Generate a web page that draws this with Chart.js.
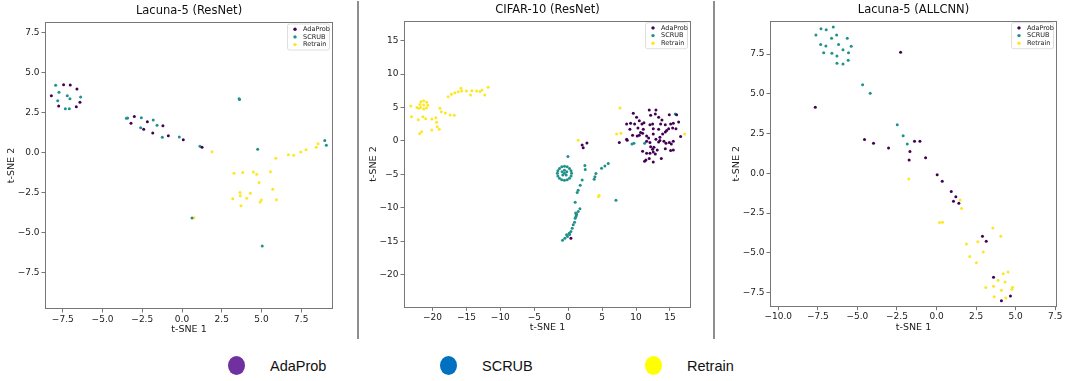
<!DOCTYPE html>
<html>
<head>
<meta charset="utf-8">
<script src="https://cdn.jsdelivr.net/npm/chart.js@4.4.1/dist/chart.umd.min.js"></script>
<style>
html,body{margin:0;padding:0;background:#fff;}
body{width:1067px;height:381px;overflow:hidden;position:relative;font-family:"DejaVu Sans",sans-serif;}
.pc{position:absolute;top:0;}
.sep{position:absolute;top:1px;width:2px;height:338px;background:#8e8e8e;}
.dot{position:absolute;width:17px;height:19px;border-radius:50%;}
.lbl{position:absolute;font-family:"Liberation Sans",Arial,sans-serif;font-size:14.5px;color:#111;line-height:20px;}
</style>
</head>
<body>
<canvas id="c1" class="pc" width="340" height="340" style="left:0px"></canvas>
<canvas id="c2" class="pc" width="336" height="340" style="left:362px"></canvas>
<canvas id="c3" class="pc" width="351" height="340" style="left:716px"></canvas>
<div class="sep" style="left:357px"></div>
<div class="sep" style="left:713px"></div>
<div id="legend"></div>
<script>
// ---------- categories ----------
const seriesNames = ['AdaProb', 'SCRUB', 'Retrain'];
const panelTitles = ['Lacuna-5 (ResNet)', 'CIFAR-10 (ResNet)', 'Lacuna-5 (ALLCNN)'];

// ---------- tick labels ----------
const lacResXTicks = [-7.5, -5, -2.5, 0, 2.5, 5, 7.5];
const lacResYTicks = [-7.5, -5, -2.5, 0, 2.5, 5, 7.5];
const cifarXTicks = [-20, -15, -10, -5, 0, 5, 10, 15];
const cifarYTicks = [-20, -15, -10, -5, 0, 5, 10, 15];
const allcnnXTicks = [-10, -7.5, -5, -2.5, 0, 2.5, 5, 7.5];
const allcnnYTicks = [-7.5, -5, -2.5, 0, 2.5, 5, 7.5];

// ---------- Lacuna-5 (ResNet) ----------
const lacResAdaProb = [[-7.45,4.25],[-7.03,4.23],[-6.61,3.98],[-8.22,3.56],[-7.76,2.92],[-6.42,3.15],[-6.65,2.88],[-3.00,2.27],[-3.21,1.84],[-2.18,1.94],[-2.41,1.46],[-1.20,1.69],[-1.84,1.23],[-0.86,1.06],[0.08,0.81],[1.26,0.34]];
const lacResScrub = [[-7.95,4.21],[-7.74,3.78],[-7.82,3.25],[-7.22,3.56],[-7.05,3.38],[-6.38,3.48],[-7.34,2.75],[-7.09,2.75],[-3.50,2.15],[-3.42,2.17],[-2.56,2.19],[-1.81,2.04],[-2.60,1.56],[-1.57,1.71],[-1.24,0.96],[-0.17,0.98],[1.13,0.40],[3.59,3.38],[3.62,3.32],[4.76,0.21],[8.98,0.77],[9.08,0.46],[5.05,-5.83],[0.63,-4.08]];
const lacResRetrain = [[1.89,0.06],[5.90,-0.35],[6.69,-0.13],[7.03,-0.16],[7.47,0.04],[7.80,0.19],[8.45,0.34],[8.56,0.56],[3.27,-1.29],[3.82,-1.23],[4.49,-1.21],[4.70,-1.35],[5.56,-1.19],[4.85,-1.87],[5.71,-2.29],[3.65,-2.48],[3.67,-2.69],[4.30,-2.54],[3.19,-2.88],[4.07,-2.85],[4.99,-2.96],[4.91,-3.08],[5.94,-2.94],[3.71,-3.31],[0.75,-4.06]];

// ---------- CIFAR-10 (ResNet) ----------
const cifarAdaProb = [[9.59,4.14],[10.08,3.54],[11.95,4.63],[12.93,4.63],[12.15,3.84],[12.84,4.04],[13.33,3.54],[14.90,3.94],[15.98,3.94],[8.61,2.54],[9.20,2.64],[9.79,2.54],[10.48,3.04],[10.87,2.54],[11.16,2.74],[12.05,2.44],[12.44,2.54],[13.82,3.14],[13.62,2.54],[14.31,2.44],[15.10,2.54],[15.49,2.64],[16.28,2.84],[9.10,1.74],[10.28,1.94],[10.67,1.25],[11.07,1.74],[12.54,1.84],[13.33,1.74],[14.51,1.55],[15.39,1.94],[15.88,1.84],[9.49,0.85],[10.18,0.75],[10.48,0.85],[10.97,1.15],[11.56,0.75],[11.85,0.45],[12.54,1.05],[13.52,0.55],[13.92,1.05],[14.31,1.35],[14.80,1.84],[16.57,0.65],[8.61,0.25],[7.53,-0.25],[11.56,-0.05],[12.05,-0.25],[12.93,0.25],[13.33,-0.15],[13.52,0.05],[14.11,-0.05],[14.41,-0.35],[14.90,-0.25],[15.20,-0.45],[15.49,-0.05],[12.15,-0.85],[12.44,-1.25],[12.64,-0.95],[10.97,-1.55],[11.56,-1.84],[12.05,-1.84],[12.54,-1.64],[12.84,-1.94],[13.13,-1.35],[14.31,-1.15],[15.10,-1.44],[15.49,-1.35],[11.46,-2.84],[11.26,-3.04],[11.95,-2.64],[12.54,-3.14],[13.72,-2.64],[8.70,0.10],[2.06,-0.60],[2.21,-1.00],[2.76,-0.30],[0.40,-14.55]];
const cifarScrub = [[0.50,-4.85],[0.42,-4.45],[0.19,-4.11],[-0.15,-3.88],[-0.55,-3.80],[-0.95,-3.88],[-1.29,-4.11],[-1.52,-4.45],[-1.60,-4.85],[-1.52,-5.25],[-1.29,-5.59],[-0.95,-5.82],[-0.55,-5.90],[-0.15,-5.82],[0.19,-5.59],[0.42,-5.25],[-0.55,-4.40],[-0.20,-4.60],[-0.90,-4.60],[-0.30,-5.10],[-0.80,-5.10],[-0.55,-4.85],[-0.04,-2.34],[2.46,-3.69],[2.51,-4.29],[4.92,-4.08],[5.41,-3.74],[5.90,-3.39],[4.09,-4.89],[3.94,-5.34],[3.83,-5.73],[2.06,-5.83],[1.77,-6.63],[1.47,-7.37],[1.33,-7.72],[1.03,-9.17],[1.73,-10.16],[1.47,-10.57],[1.24,-10.96],[1.10,-10.80],[1.14,-11.31],[1.20,-11.10],[1.03,-11.56],[0.94,-12.16],[0.74,-12.56],[0.59,-13.05],[0.40,-13.56],[0.15,-13.80],[0.20,-14.00],[-0.24,-14.05],[-0.10,-14.30],[-0.49,-14.55],[-0.83,-14.85],[7.04,-8.87],[15.78,4.04],[9.40,-0.45],[9.69,-0.35],[11.27,-0.35]];
const cifarRetrain = [[-21.30,6.00],[-20.85,5.80],[-20.70,5.35],[-20.90,4.95],[-21.30,4.80],[-21.75,5.00],[-21.85,5.45],[-21.70,5.85],[-21.30,5.40],[-23.20,5.23],[-22.00,4.88],[-22.30,5.00],[-23.10,3.64],[-22.10,3.19],[-21.40,3.64],[-21.00,3.33],[-20.10,3.29],[-19.50,3.48],[-19.40,2.80],[-19.30,2.14],[-19.00,1.75],[-20.10,1.64],[-21.60,1.39],[-21.90,1.09],[-18.90,4.88],[-18.70,4.38],[-18.10,4.19],[-17.40,3.89],[-16.80,3.84],[-17.70,6.62],[-17.20,6.98],[-16.70,7.22],[-16.20,7.37],[-15.80,7.88],[-15.70,7.47],[-15.00,7.47],[-14.40,6.88],[-14.20,7.52],[-13.50,7.47],[-13.00,7.40],[-12.70,7.62],[-12.30,6.88],[-11.80,8.03],[1.47,0.10],[4.57,-8.18],[4.45,-8.30],[7.63,4.93],[7.14,1.05],[7.77,1.15],[17.17,1.05]];

// ---------- Lacuna-5 (ALLCNN) ----------
const allcnnAdaProb = [[-2.27,7.61],[-7.66,4.15],[-4.55,2.12],[-3.98,1.89],[-3.03,1.59],[-1.39,2.01],[-1.05,2.01],[-1.68,1.38],[-0.69,0.98],[-1.73,0.84],[0.04,-0.09],[0.36,-0.50],[0.93,-1.15],[1.22,-1.47],[1.07,-1.76],[1.41,-1.89],[2.90,-3.96],[3.14,-4.28],[3.60,-6.54],[4.10,-8.01],[4.67,-7.72]];
const allcnnScrub = [[-7.62,8.70],[-7.30,9.10],[-6.97,9.03],[-6.52,9.20],[-6.31,8.70],[-6.63,8.49],[-7.32,8.11],[-6.99,8.01],[-6.19,8.11],[-5.64,8.49],[-5.39,7.99],[-7.13,7.59],[-6.61,7.55],[-6.29,7.38],[-5.91,7.78],[-5.56,7.59],[-6.29,6.92],[-5.91,6.87],[-5.58,7.11],[-4.67,5.57],[-4.19,5.03],[-2.48,3.06],[-2.11,2.37],[-1.85,1.84]];
const allcnnRetrain = [[-1.75,-0.36],[1.49,-1.68],[1.58,-2.22],[0.19,-3.10],[0.38,-3.08],[3.56,-3.44],[4.06,-3.96],[2.61,-4.30],[1.89,-4.45],[2.95,-4.95],[2.10,-5.24],[2.52,-5.62],[4.21,-6.31],[4.52,-6.21],[3.89,-6.73],[4.33,-6.84],[4.80,-7.17],[4.76,-7.30],[3.11,-7.19],[3.60,-7.11],[4.10,-7.36],[3.64,-7.76],[4.38,-7.84]];

// ---------- colours ----------
const plotColors = ['#440154', '#21918c', '#fde725'];
const bottomLegendColors = ['#7030a0', '#0070c0', '#ffff00'];

const FONT = '"DejaVu Sans", sans-serif';

function fmt(v, dec) {
  const s = Math.abs(v).toFixed(dec);
  return (v < 0 ? '\u2212' : '') + s;
}

const framePlugin = {
  id: 'frame',
  afterDraw(chart) {
    const {ctx, chartArea: a} = chart;
    ctx.save();
    ctx.strokeStyle = '#777';
    ctx.lineWidth = 1;
    ctx.strokeRect(Math.round(a.left) + 0.5, Math.round(a.top) + 0.5, Math.round(a.right - a.left) - 1, Math.round(a.bottom - a.top) - 1);
    ctx.restore();
  }
};

const innerLegend = {
  id: 'innerLegend',
  afterDatasetsDraw(chart) {
    const {ctx, chartArea: a} = chart;
    const w = 42, h = 26;
    const x = a.right - w - 4, y = a.top + 1.5;
    ctx.save();
    ctx.beginPath();
    ctx.roundRect(x + 0.5, y + 0.5, w, h, 2);
    ctx.fillStyle = 'rgba(255,255,255,0.85)';
    ctx.fill();
    ctx.strokeStyle = '#d6d6d6';
    ctx.lineWidth = 0.8;
    ctx.stroke();
    ctx.font = '6.5px ' + FONT;
    ctx.textBaseline = 'middle';
    chart.data.datasets.forEach((d, i) => {
      const cy = y + 5.7 + i * 7.7;
      ctx.beginPath();
      ctx.arc(x + 8, cy, 1.7, 0, Math.PI * 2);
      ctx.fillStyle = d.backgroundColor;
      ctx.fill();
      ctx.fillStyle = '#222';
      ctx.fillText(d.label, x + 16, cy);
    });
    ctx.restore();
  }
};

function makePanel(cfg) {
  const datasets = cfg.series.map((pts, i) => ({
    label: seriesNames[i],
    data: pts.map(p => ({x: p[0], y: p[1]})),
    backgroundColor: plotColors[i],
    borderWidth: 0,
    pointRadius: 1.5,
    pointHoverRadius: 1.5
  }));
  const tickFont = {family: FONT, size: 9};
  const axisTitleFont = {family: FONT, size: 9.5};
  new Chart(document.getElementById(cfg.id), {
    type: 'scatter',
    data: {datasets},
    plugins: [framePlugin, innerLegend],
    options: {
      responsive: false,
      animation: false,
      events: [],
      layout: {padding: {left: 0, right: cfg.padRight, top: 0, bottom: 0}},
      plugins: {
        legend: {display: false},
        tooltip: {enabled: false},
        title: {
          display: true,
          text: cfg.title,
          fullSize: false,
          color: '#111',
          font: {family: FONT, size: 11.5, weight: 'normal'},
          padding: {top: cfg.titleTop, bottom: cfg.titleBottom}
        }
      },
      scales: {
        x: {
          type: 'linear',
          min: cfg.xr[0], max: cfg.xr[1],
          afterBuildTicks: s => { s.ticks = cfg.xt.map(v => ({value: v})); },
          afterFit: s => { s.height = cfg.xAxisH; },
          border: {display: false},
          grid: {display: true, drawOnChartArea: false, drawTicks: true, tickLength: 3.5, color: '#777', tickWidth: 1},
          ticks: {font: tickFont, color: '#222', padding: 1.5, maxRotation: 0, autoSkip: false, callback: v => fmt(v, cfg.dec)},
          title: {display: true, text: 't-SNE 1', font: axisTitleFont, color: '#222', padding: {top: 0, bottom: cfg.xTitlePad}}
        },
        y: {
          type: 'linear',
          min: cfg.yr[0], max: cfg.yr[1],
          afterBuildTicks: s => { s.ticks = cfg.yt.map(v => ({value: v})); },
          afterFit: s => { s.width = cfg.yAxisW; },
          border: {display: false},
          grid: {display: true, drawOnChartArea: false, drawTicks: true, tickLength: 3.5, color: '#777', tickWidth: 1},
          ticks: {font: tickFont, color: '#222', padding: 2, autoSkip: false, callback: v => fmt(v, cfg.dec)},
          title: {display: true, text: 't-SNE 2', font: axisTitleFont, color: '#222', padding: {top: cfg.yTitlePad, bottom: 0}}
        }
      }
    }
  });
}

makePanel({id: 'c1', title: panelTitles[0], series: [lacResAdaProb, lacResScrub, lacResRetrain],
  xr: [-8.62, 9.5], yr: [-9.77, 8.17], xt: lacResXTicks, yt: lacResYTicks, dec: 1,
  yAxisW: 45, yTitlePad: 5.8, padRight: 7, titleTop: 4.4, titleBottom: 3.8, xAxisH: 31, xTitlePad: 4.8});
makePanel({id: 'c2', title: panelTitles[1], series: [cifarAdaProb, cifarScrub, cifarRetrain],
  xr: [-24.2, 18.1], yr: [-24.9, 18.0], xt: cifarXTicks, yt: cifarYTicks, dec: 0,
  yAxisW: 42, yTitlePad: 5.6, padRight: 7, titleTop: 3.6, titleBottom: 3.3, xAxisH: 32.7, xTitlePad: 6.8});
makePanel({id: 'c3', title: panelTitles[2], series: [allcnnAdaProb, allcnnScrub, allcnnRetrain],
  xr: [-10.52, 7.61], yr: [-8.39, 9.6], xt: allcnnXTicks, yt: allcnnYTicks, dec: 1,
  yAxisW: 54, yTitlePad: 15, padRight: 10, titleTop: 3.6, titleBottom: 3.3, xAxisH: 33.3, xTitlePad: 6.8});

// ---------- bottom legend ----------
const legendDotX = [236, 448, 653];
const legendTextX = [270, 482, 687];
const lg = document.getElementById('legend');
seriesNames.forEach((n, i) => {
  const d = document.createElement('div');
  d.className = 'dot';
  d.style.left = (legendDotX[i] - 8.5) + 'px';
  d.style.top = (365 - 9.5) + 'px';
  d.style.background = bottomLegendColors[i];
  lg.appendChild(d);
  const t = document.createElement('div');
  t.className = 'lbl';
  t.style.left = legendTextX[i] + 'px';
  t.style.top = '356px';
  t.textContent = n;
  lg.appendChild(t);
});
</script>
</body>
</html>
